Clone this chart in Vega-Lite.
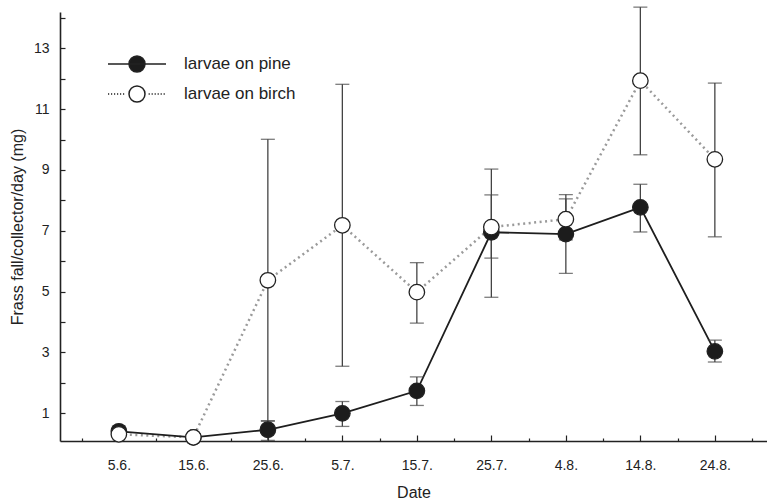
{
  "$schema": "https://vega.github.io/schema/vega-lite/v6.json",
  "width": 707,
  "height": 429,
  "autosize": "none",
  "padding": {"left": 60, "top": 12, "right": 0, "bottom": 61},
  "background": "white",
  "config": {
    "view": {"stroke": null},
    "font": "Liberation Sans",
    "axis": {
      "domainColor": "#222",
      "domainWidth": 1.6,
      "tickColor": "#222",
      "tickWidth": 1.2,
      "labelColor": "#222",
      "labelFontSize": 14,
      "labelFont": "Liberation Sans",
      "titleFont": "Liberation Sans",
      "titleFontSize": 16,
      "titleFontWeight": "normal",
      "titleColor": "#222",
      "grid": false
    }
  },
  "data": {
    "values": [
      {"series": "larvae on pine", "day": 0, "value": 0.4, "low": 0.25, "high": 0.57},
      {"series": "larvae on pine", "day": 10, "value": 0.2, "low": 0.1, "high": 0.3},
      {"series": "larvae on pine", "day": 20, "value": 0.45, "low": 0.1, "high": 0.75},
      {"series": "larvae on pine", "day": 30, "value": 0.99, "low": 0.56, "high": 1.38},
      {"series": "larvae on pine", "day": 40, "value": 1.73, "low": 1.25, "high": 2.19},
      {"series": "larvae on pine", "day": 50, "value": 6.95, "low": 6.1, "high": 8.18},
      {"series": "larvae on pine", "day": 60, "value": 6.89, "low": 5.6, "high": 8.19},
      {"series": "larvae on pine", "day": 70, "value": 7.77, "low": 6.96, "high": 8.53},
      {"series": "larvae on pine", "day": 80, "value": 3.03, "low": 2.68, "high": 3.4},
      {"series": "larvae on birch", "day": 0, "value": 0.3, "low": 0.2, "high": 0.4},
      {"series": "larvae on birch", "day": 10, "value": 0.2, "low": 0.1, "high": 0.3},
      {"series": "larvae on birch", "day": 20, "value": 5.37, "low": 0.73, "high": 10.01},
      {"series": "larvae on birch", "day": 30, "value": 7.18, "low": 2.54, "high": 11.82},
      {"series": "larvae on birch", "day": 40, "value": 4.98, "low": 3.96, "high": 5.95},
      {"series": "larvae on birch", "day": 50, "value": 7.12, "low": 4.81, "high": 9.03},
      {"series": "larvae on birch", "day": 60, "value": 7.38, "low": 6.7, "high": 8.05},
      {"series": "larvae on birch", "day": 70, "value": 11.94, "low": 9.5, "high": 14.36},
      {"series": "larvae on birch", "day": 80, "value": 9.35, "low": 6.8, "high": 11.86}
    ]
  },
  "encoding": {
    "x": {
      "field": "day",
      "type": "quantitative",
      "scale": {"domain": [-7.9, 87], "nice": false, "zero": false},
      "axis": {
        "title": "Date",
        "values": [-5, 0, 5, 10, 15, 20, 25, 30, 35, 40, 45, 50, 55, 60, 65, 70, 75, 80, 85],
        "labelExpr": "datum.value % 10 === 0 && datum.value >= 0 && datum.value <= 80 ? ['5.6.','15.6.','25.6.','5.7.','15.7.','25.7.','4.8.','14.8.','24.8.'][datum.value / 10] : ''",
        "tickSize": {"condition": {"test": "datum.value % 10 === 0", "value": -6}, "value": -3},
        "labelPadding": 23,
        "titlePadding": 12
      }
    },
    "y": {
      "field": "value",
      "type": "quantitative",
      "scale": {"domain": [0.08, 14.2], "nice": false, "zero": false},
      "axis": {
        "title": "Frass fall/collector/day (mg)",
        "values": [1, 2, 3, 4, 5, 6, 7, 8, 9, 10, 11, 12, 13, 14],
        "labelExpr": "datum.value % 2 === 1 ? datum.label : ''",
        "tickSize": -5,
        "labelPadding": 16,
        "titlePadding": 8
      }
    }
  },
  "layer": [
    {
      "transform": [{"filter": "datum.series === 'larvae on birch'"}],
      "mark": {"type": "line", "color": "#9a9a9a", "strokeWidth": 2.5, "strokeDash": [2, 3.5]}
    },
    {
      "transform": [{"filter": "datum.series === 'larvae on pine'"}],
      "mark": {"type": "line", "color": "#1e1e1e", "strokeWidth": 1.8}
    },
    {
      "mark": {"type": "rule", "color": "#444", "strokeWidth": 1.3},
      "encoding": {"y": {"field": "low", "type": "quantitative"}, "y2": {"field": "high"}}
    },
    {
      "mark": {"type": "tick", "orient": "horizontal", "color": "#444", "size": 14, "thickness": 1.3},
      "encoding": {"y": {"field": "low", "type": "quantitative"}}
    },
    {
      "mark": {"type": "tick", "orient": "horizontal", "color": "#444", "size": 14, "thickness": 1.3},
      "encoding": {"y": {"field": "high", "type": "quantitative"}}
    },
    {
      "mark": {"type": "point", "size": 0, "filled": true, "stroke": "#222", "strokeWidth": 1.5, "opacity": 1},
      "encoding": {
        "fill": {
          "field": "series",
          "type": "nominal",
          "scale": {"domain": ["larvae on pine", "larvae on birch"], "range": ["#1c1c1c", "#ffffff"]},
          "legend": {
            "title": null,
            "orient": "none",
            "legendX": 68,
            "legendY": 43,
            "symbolSize": 256,
            "symbolOpacity": 1,
            "symbolStrokeColor": "#222",
            "symbolStrokeWidth": 1.5,
            "labelFontSize": 17,
            "labelColor": "#222",
            "labelOffset": 38,
            "rowPadding": 8
          }
        },
        "shape": {
          "field": "series",
          "type": "nominal",
          "scale": {
            "domain": ["larvae on pine", "larvae on birch"],
            "range": [
              "M-3.625,0H3.625M1,0A1,1,0,1,1,-1,0A1,1,0,1,1,1,0Z",
              "M-3.625,0h0.15M-3.25,0h0.15M-2.875,0h0.15M-2.5,0h0.15M-2.125,0h0.15M-1.75,0h0.15M1.45,0h0.15M1.825,0h0.15M2.2,0h0.15M2.575,0h0.15M2.95,0h0.15M3.325,0h0.15M1,0A1,1,0,1,1,-1,0A1,1,0,1,1,1,0Z"
            ]
          }
        }
      }
    },
    {
      "mark": {"type": "point", "shape": "circle", "size": 240, "filled": true, "stroke": "#222", "strokeWidth": 1.3, "opacity": 1},
      "encoding": {
        "fill": {"field": "series", "type": "nominal"}
      }
    }
  ]
}
